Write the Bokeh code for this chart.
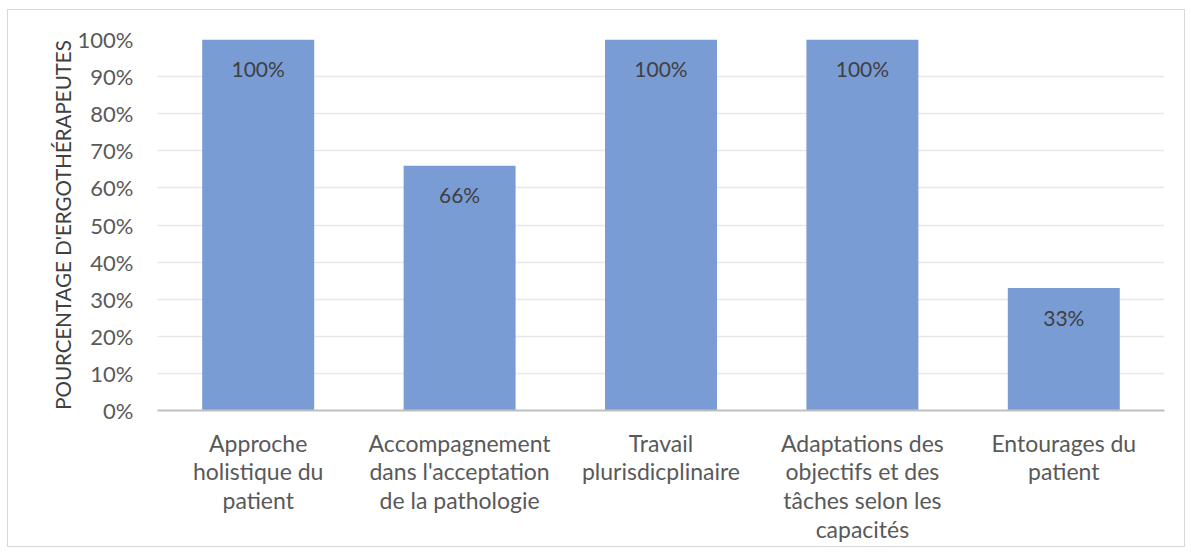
from bokeh.plotting import figure
from bokeh.models import FactorRange, Range1d, NumeralTickFormatter, ColumnDataSource, SingleIntervalTicker
from bokeh.core.properties import value
from bokeh.embed import file_html
from bokeh.resources import INLINE

categories = [
    "Approche holistique du patient",
    "Accompagnement dans l'acceptation de la pathologie",
    "Travail plurisdicplinaire",
    "Adaptations des objectifs et des tâches selon les capacités",
    "Entourages du patient",
]
wrapped = [
    "Approche\nholistique du\npatient",
    "Accompagnement\ndans l'acceptation\nde la pathologie",
    "Travail\nplurisdicplinaire",
    "Adaptations des\nobjectifs et des\ntâches selon les\ncapacités",
    "Entourages du\npatient",
]
values = [1.00, 0.66, 1.00, 1.00, 0.33]
labels = ["100%", "66%", "100%", "100%", "33%"]
y_title = "POURCENTAGE D'ERGOTHÉRAPEUTES"

FONT = "Lato"

src = ColumnDataSource(dict(cat=wrapped, val=values, lab=labels, name=categories))

p = figure(
    x_range=FactorRange(*wrapped, range_padding=0),
    y_range=Range1d(0, 1.0),
    frame_width=1007, frame_height=371,
    output_backend="svg", toolbar_location=None,
    min_border_left=149, min_border_right=20, min_border_top=29, min_border_bottom=100,
)
p.styles = {"border": "1px solid #d9d9d9", "margin": "9px 0 0 7px"}
p.outline_line_color = None
p.background_fill_color = "white"

p.vbar(x="cat", top="val", width=0.556, source=src, fill_color="#7a9cd5", line_color=None)
p.text(x="cat", y="val", text="lab", source=src, y_offset=29,
       text_align="center", text_baseline="middle",
       text_font=value(FONT), text_font_size="21px", text_color="#404040")

p.x_range.factor_padding = 0
p.xgrid.grid_line_color = None
p.ygrid.grid_line_color = "#e8e8e8"
p.ygrid.grid_line_width = 1.5

p.yaxis.ticker = SingleIntervalTicker(interval=0.1)
p.yaxis.formatter = NumeralTickFormatter(format="0%")
p.yaxis.axis_line_color = None
p.yaxis.major_tick_line_color = None
p.yaxis.minor_tick_line_color = None
p.yaxis.major_label_text_font = FONT
p.yaxis.major_label_text_font_size = "22px"
p.yaxis.major_label_text_color = "#595959"
p.yaxis.major_label_standoff = 18
p.yaxis.axis_label = y_title
p.yaxis.axis_label_text_font = FONT
p.yaxis.axis_label_text_font_size = "20.5px"
p.yaxis.axis_label_text_font_style = "normal"
p.yaxis.axis_label_text_color = "#404040"
p.yaxis.axis_label_standoff = 0

p.xaxis.axis_line_color = "#bfbfbf"
p.xaxis.axis_line_width = 2
p.xaxis.major_tick_line_color = None
p.xaxis.minor_tick_line_color = None
p.xaxis.major_label_text_font = FONT
p.xaxis.major_label_text_font_size = "23px"
p.xaxis.major_label_text_color = "#595959"
p.xaxis.major_label_standoff = 12
p.xaxis.major_label_text_line_height = 1.03

open("out.html", "w").write(file_html(p, INLINE))
